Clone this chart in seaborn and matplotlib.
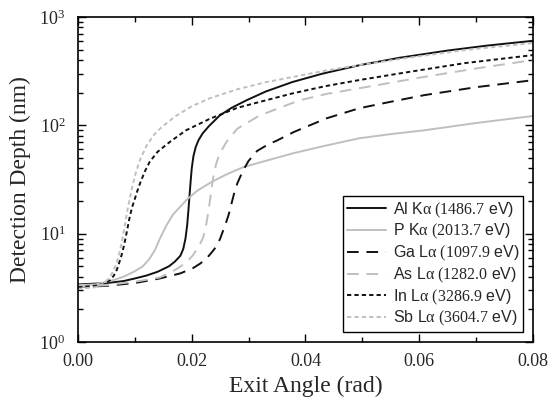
import matplotlib
matplotlib.use("Agg")
import matplotlib.pyplot as plt
from matplotlib.ticker import MultipleLocator, LogLocator, NullFormatter, FormatStrFormatter
import seaborn as sns
import pandas as pd

# ---- data (exit angle in rad, detection depth in nm) ----
al_x = [0, 0.005, 0.008, 0.010, 0.012, 0.014, 0.016, 0.017, 0.018, 0.0185, 0.0189,
        0.0192, 0.0194, 0.0196, 0.0198, 0.0200, 0.0203, 0.0207, 0.0212, 0.0219,
        0.023, 0.0249, 0.027, 0.0296, 0.033, 0.0377, 0.043, 0.0495, 0.0565,
        0.065, 0.072, 0.08]
al_y = [3.4, 3.5, 3.65, 3.86, 4.1, 4.45, 5.0, 5.5, 6.25, 7.2, 9,
        12, 16, 22, 30, 40, 52, 63, 73, 84,
        98, 123, 145, 170, 205, 251, 300, 359, 420,
        490, 545, 603]

p_x = [0, 0.003, 0.006, 0.008, 0.010, 0.0114, 0.0125, 0.0135, 0.0144, 0.0155,
       0.0167, 0.018, 0.0193, 0.021, 0.0235, 0.026, 0.029, 0.033, 0.0377,
       0.043, 0.0495, 0.055, 0.0609, 0.07, 0.08]
p_y = [3.35, 3.4, 3.7, 4.0, 4.5, 5.0, 5.8, 7.0, 9.0, 11.8,
       15, 17.8, 21, 25, 30, 35, 41, 47, 55,
       64, 76, 83, 90, 105, 122]

ga_x = [0, 0.005, 0.010, 0.0144, 0.018, 0.0202, 0.0215, 0.0226, 0.0236, 0.0244,
        0.025, 0.0255, 0.026, 0.0265, 0.027, 0.0275, 0.028, 0.029, 0.030,
        0.0315, 0.0335, 0.0349, 0.038, 0.0437, 0.0495, 0.055, 0.0609, 0.07, 0.08]
ga_y = [3.2, 3.3, 3.5, 3.86, 4.3, 4.8, 5.3, 5.9, 6.8, 7.7,
        9, 10.6, 12.5, 15, 19, 24, 29, 38, 47,
        58, 67, 72, 87, 116, 144, 165, 190, 225, 261]

as_x = [0, 0.005, 0.010, 0.0144, 0.0173, 0.019, 0.0202, 0.021, 0.0216, 0.022,
        0.0224, 0.0227, 0.023, 0.0233, 0.0236, 0.024, 0.0244, 0.025, 0.0261,
        0.028, 0.0319, 0.0389, 0.0437, 0.0495, 0.06, 0.07, 0.08]
as_y = [3.2, 3.35, 3.6, 3.94, 4.7, 5.4, 6.3, 7.3, 8.3, 9.2,
        11, 13.5, 17, 22, 29, 38, 46, 56, 70,
        93, 123, 170, 195, 220, 275, 335, 400]

in_x = [0, 0.003, 0.0045, 0.0056, 0.0063, 0.0068, 0.0073, 0.0078, 0.0082, 0.0086,
        0.009, 0.0095, 0.0100, 0.0104, 0.011, 0.0118, 0.0126, 0.014, 0.0161,
        0.019, 0.0232, 0.028, 0.033, 0.0377, 0.0435, 0.0495, 0.058, 0.068, 0.08]
in_y = [3.2, 3.3, 3.45, 3.7, 4.1, 4.6, 5.5, 6.7, 8.3, 10.5,
        13.5, 17.5, 21, 24.5, 30, 38, 46, 57, 70,
        90, 115, 145, 170, 197, 230, 262, 310, 375, 445]

sb_x = [0, 0.003, 0.0045, 0.0055, 0.0062, 0.0068, 0.0074, 0.0079, 0.0083, 0.0087,
        0.0091, 0.0096, 0.0102, 0.0109, 0.012, 0.0132, 0.0144, 0.017, 0.020,
        0.0232, 0.028, 0.033, 0.0377, 0.0435, 0.0495, 0.058, 0.068, 0.08]
sb_y = [3.1, 3.2, 3.45, 3.9, 4.5, 5.4, 7.0, 9.5, 12.5, 16.5,
        21, 28, 37, 48, 64, 80, 93, 120, 150,
        178, 215, 250, 279, 320, 360, 420, 495, 575]

labels = [r"Al K$\mathrm{\alpha\ (1486.7}$ eV)",
          r"P K$\mathrm{\alpha\ (2013.7}$ eV)",
          r"Ga L$\mathrm{\alpha\ (1097.9}$ eV)",
          r"As L$\mathrm{\alpha\ (1282.0}$ eV)",
          r"In L$\mathrm{\alpha\ (3286.9}$ eV)",
          r"Sb L$\mathrm{\alpha\ (3604.7}$ eV)"]
series = [(al_x, al_y), (p_x, p_y), (ga_x, ga_y), (as_x, as_y), (in_x, in_y), (sb_x, sb_y)]

# line styles
colors = ["#111111", "#bfbfbf", "#111111", "#bfbfbf", "#111111", "#bfbfbf"]
dashes = [None, None, (6, 4), (6, 4), (2.2, 1.6), (2.2, 1.6)]

# ---- style ----
sns.set_style("ticks")
plt.rcParams["font.family"] = ["Liberation Serif", "DejaVu Serif"]
plt.rcParams["mathtext.fontset"] = "custom"
plt.rcParams["mathtext.rm"] = "Liberation Serif"
plt.rcParams["mathtext.it"] = "Liberation Serif:italic"

fig = plt.figure(figsize=(5.58, 4.0), dpi=100)
ax = fig.add_axes([0.1398, 0.145, 0.8152, 0.8125])

for (xs, ys), lab, c, d in zip(series, labels, colors, dashes):
    df = pd.DataFrame({"angle": xs, "depth": ys})
    sns.lineplot(data=df, x="angle", y="depth", ax=ax, color=c, lw=1.4,
                 label=lab, estimator=None, sort=False)
    if d is not None:
        ax.lines[-1].set_dashes(d)

ax.set_yscale("log")
ax.set_xlim(0, 0.08)
ax.set_ylim(1, 1000)

ax.xaxis.set_major_locator(MultipleLocator(0.02))
ax.xaxis.set_minor_locator(MultipleLocator(0.01))
ax.xaxis.set_major_formatter(FormatStrFormatter("%.2f"))
ax.yaxis.set_major_locator(LogLocator(base=10))
ax.yaxis.set_minor_locator(LogLocator(base=10, subs=range(2, 10)))
ax.yaxis.set_minor_formatter(NullFormatter())

ax.tick_params(which="both", top=True, right=True, direction="in", width=1.0,
               labelsize=13, color="black")
ax.tick_params(which="major", length=6)
ax.tick_params(which="minor", length=3.5)
ax.tick_params(axis="x", which="major", pad=8)
ax.tick_params(axis="y", which="major", pad=9)
for s in ax.spines.values():
    s.set_linewidth(1.2)
    s.set_color("black")

ax.set_xlabel("Exit Angle (rad)", fontsize=17, labelpad=4)
ax.set_ylabel("Detection Depth (nm)", fontsize=17, labelpad=6)

leg = ax.legend(loc="lower right", frameon=True, fancybox=False,
                edgecolor="black", framealpha=1, handlelength=2.4,
                borderaxespad=0.6, labelspacing=0.16, handletextpad=0.45,
                borderpad=0.25, prop={"family": ["Liberation Sans"], "size": 11.5})
leg.get_frame().set_linewidth(1.0)

fig.savefig("out.png", dpi=100)
